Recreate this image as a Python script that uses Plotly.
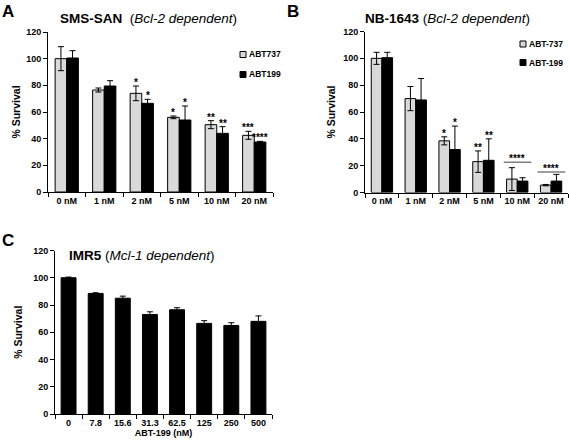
import plotly.graph_objects as go

W, H = 569, 446
def px(x): return x / W
def py(y): return 1 - y / H

FONT = "Liberation Sans, Arial, sans-serif"

# ---------------- data ----------------
conc_ab = ["0 nM", "1 nM", "2 nM", "5 nM", "10 nM", "20 nM"]

a_abt737 = [100, 76.5, 74, 56, 50.5, 42.5]
a_abt737_err = [9, 1.5, 5.5, 1, 3, 3]
a_abt199 = [100.5, 79.5, 66.5, 54, 44, 37.5]
a_abt199_err = [5.5, 4, 3, 10.5, 5, 0.5]
a_sig737 = ["", "", "*", "*", "**", "***"]
a_sig199 = ["", "", "*", "*", "**", "****"]

b_abt737 = [100, 70, 38.5, 23, 10, 5.5]
b_abt737_err = [4.5, 9, 3, 8, 8.5, 0.5]
b_abt199 = [100.5, 69, 32, 24, 8.5, 8.5]
b_abt199_err = [4, 16, 17.5, 16, 2.5, 5]
b_sig737 = ["", "", "*", "**", "", ""]
b_sig199 = ["", "", "*", "**", "", ""]
b_group_sig = {4: ("****", 22.5), 5: ("****", 15.3)}

c_conc = ["0", "7.8", "15.6", "31.3", "62.5", "125", "250", "500"]
c_abt199 = [100, 88.5, 85, 73, 76.5, 66.5, 65, 68]
c_abt199_err = [0.5, 0.5, 1.5, 2, 1.5, 2, 2, 4]

# ---------------- figure ----------------
fig = go.Figure()
GRAY = "#d9d9d9"

def err(arr):
    return dict(type="data", array=arr, visible=True, color="black", thickness=1, width=3)

def add_pair(xref, yref, v737, e737, v199, e199, n737, n199, bw):
    fig.add_trace(go.Bar(x=conc_ab, y=v737, error_y=err(e737), name=n737,
                         marker=dict(color=GRAY, line=dict(color="black", width=1)),
                         width=bw, offset=-bw, xaxis=xref, yaxis=yref, showlegend=False))
    fig.add_trace(go.Bar(x=conc_ab, y=v199, error_y=err(e199), name=n199,
                         marker=dict(color="black", line=dict(color="black", width=1)),
                         width=bw, offset=0, xaxis=xref, yaxis=yref, showlegend=False))

add_pair("x", "y", a_abt737, a_abt737_err, a_abt199, a_abt199_err, "ABT737", "ABT199", 0.31)
add_pair("x2", "y2", b_abt737, b_abt737_err, b_abt199, b_abt199_err, "ABT-737", "ABT-199", 0.315)

fig.add_trace(go.Bar(x=c_conc, y=c_abt199, error_y=err(c_abt199_err), name="ABT-199",
                     marker=dict(color="black", line=dict(color="black", width=1)),
                     width=0.55, offset=-0.275, xaxis="x3", yaxis="y3", showlegend=False))

tickfont = dict(family=FONT, size=9, color="black", weight="bold")
titlefont = dict(family=FONT, size=10.5, color="black", weight="bold")

def xax(domain, anchor, rng, title=None):
    d = dict(domain=domain, anchor=anchor, type="category", range=rng, tickangle=0,
             showline=True, linecolor="black", linewidth=1, ticks="outside",
             ticklen=4, tickcolor="black", tickson="boundaries", showgrid=False,
             zeroline=False, tickfont=tickfont, fixedrange=True, automargin=False)
    if title:
        d["title"] = dict(text=title, font=dict(family=FONT, size=9, color="black", weight="bold"), standoff=0)
    return d

def yax(domain, anchor, standoff):
    return dict(domain=domain, anchor=anchor, range=[0, 120], tickvals=[0, 20, 40, 60, 80, 100, 120],
                showline=True, linecolor="black", linewidth=1, ticks="outside", ticklen=4,
                tickcolor="black", showgrid=False, zeroline=False, tickfont=tickfont,
                title=dict(text="% Survival", font=titlefont, standoff=standoff), fixedrange=True,
                automargin=False)

fig.update_layout(
    width=W, height=H, margin=dict(l=0, r=0, t=0, b=0),
    paper_bgcolor="white", plot_bgcolor="white", barmode="overlay",
    font=dict(family=FONT, color="black"),
    xaxis=xax([px(48), px(273)], "y", [-0.5, 5.5]),
    yaxis=yax([py(192), py(32)], "x", 3),
    xaxis2=xax([px(365), px(568)], "y2", [-0.5, 5.5]),
    yaxis2=yax([py(192.5), py(31.5)], "x2", 5),
    xaxis3=xax([px(55), px(272)], "y3", [-0.5, 7.5], "ABT-199 (nM)"),
    yaxis3=yax([py(414), py(250.5)], "x3", 8),
)

ann = []
# panel letters
for t, x, y in [("A", 8, 12), ("B", 293, 12), ("C", 8, 240)]:
    ann.append(dict(text="<b>%s</b>" % t, x=px(x), y=py(y), xref="paper", yref="paper",
                    showarrow=False, font=dict(family=FONT, size=17, color="black"),
                    xanchor="center", yanchor="middle"))
# titles
for t, x, y in [("<b>SMS-SAN</b>  (<i>Bcl-2 dependent</i>)", 148, 18),
                ("<b>NB-1643</b> (<i>Bcl-2 dependent</i>)", 447, 18),
                ("<b>IMR5</b> (<i>Mcl-1 dependent</i>)", 142, 255)]:
    ann.append(dict(text=t, x=px(x), y=py(y), xref="paper", yref="paper", showarrow=False,
                    font=dict(family=FONT, size=13.5, color="black"), xanchor="center", yanchor="middle"))

shapes = []
# legends
for (lx, ly, fill, label) in [(240, 54.5, GRAY, "ABT737"), (240, 74.5, "black", "ABT199"),
                              (520, 44, GRAY, "ABT-737"), (520, 62.5, "black", "ABT-199")]:
    shapes.append(dict(type="rect", xref="paper", yref="paper", x0=px(lx), x1=px(lx + 6),
                       y0=py(ly + 3), y1=py(ly - 3), fillcolor=fill, line=dict(color="black", width=1)))
    ann.append(dict(text="<b>%s</b>" % label, x=px(lx + 6.5), y=py(ly), xref="paper", yref="paper",
                    showarrow=False, font=dict(family=FONT, size=8.5, color="black"),
                    xanchor="left", yanchor="middle"))

sigfont = dict(family=FONT, size=10, color="black")
def sig(xref, yref, vals, errs, sigs, off):
    for i, (v, e, s) in enumerate(zip(vals, errs, sigs)):
        if s:
            ann.append(dict(text="<b>%s</b>" % s, x=i + off, y=v + e, xref=xref, yref=yref,
                            showarrow=False, font=sigfont, xanchor="center", yanchor="bottom", yshift=-4))

sig("x", "y", a_abt737, a_abt737_err, a_sig737, -0.155)
sig("x", "y", a_abt199, a_abt199_err, a_sig199, 0.155)
sig("x2", "y2", b_abt737, b_abt737_err, b_sig737, -0.1575)
sig("x2", "y2", b_abt199, b_abt199_err, b_sig199, 0.1575)

for i, (s, yv) in b_group_sig.items():
    shapes.append(dict(type="line", xref="x2", yref="y2", x0=i - 0.4, x1=i + 0.42, y0=yv, y1=yv,
                       line=dict(color="#7f7f7f", width=1.5)))
    ann.append(dict(text="<b>%s</b>" % s, x=i, y=yv, xref="x2", yref="y2", showarrow=False,
                    font=sigfont, xanchor="center", yanchor="bottom", yshift=-4))

fig.update_layout(annotations=ann, shapes=shapes)
fig.write_html("out.html", config={"displayModeBar": False},
               post_script="document.body.style.margin='0';document.body.style.overflow='hidden';")
